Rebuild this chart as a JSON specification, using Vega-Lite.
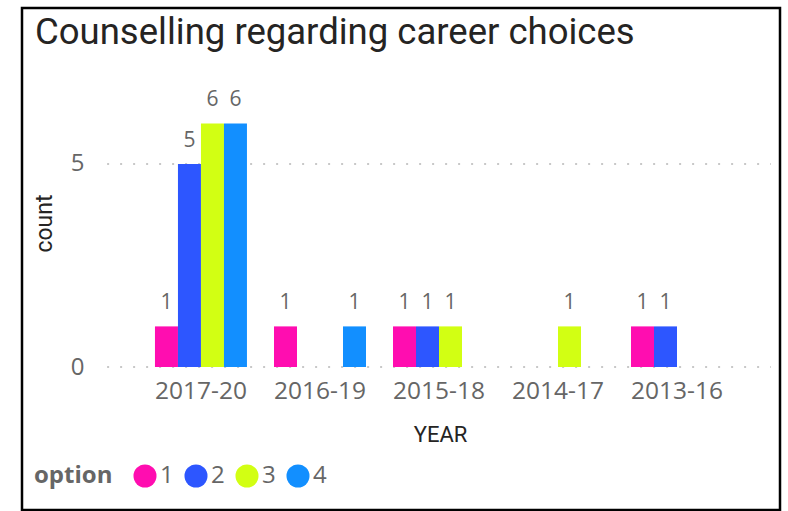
{
  "$schema": "https://vega.github.io/schema/vega-lite/v6.json",
  "width": 758,
  "height": 502,
  "autosize": "none",
  "padding": {"left": 22, "top": 8, "right": 8, "bottom": 1},
  "background": "#ffffff",
  "title": {
    "text": "Counselling regarding career choices",
    "anchor": "start",
    "frame": "group",
    "orient": "top",
    "offset": -37,
    "baseline": "alphabetic",
    "dx": 13,
    "dy": 35,
    "font": "Roboto",
    "fontSize": 36.5,
    "fontWeight": "normal",
    "color": "#252423"
  },
  "config": {
    "view": {"stroke": "#000000", "strokeWidth": 2.5},
    "font": "Open Sans"
  },
  "data": {
    "values": [
      {"YEAR": "2017-20", "option": "1", "count": 1},
      {"YEAR": "2017-20", "option": "2", "count": 5},
      {"YEAR": "2017-20", "option": "3", "count": 6},
      {"YEAR": "2017-20", "option": "4", "count": 6},
      {"YEAR": "2016-19", "option": "1", "count": 1},
      {"YEAR": "2016-19", "option": "4", "count": 1},
      {"YEAR": "2015-18", "option": "1", "count": 1},
      {"YEAR": "2015-18", "option": "2", "count": 1},
      {"YEAR": "2015-18", "option": "3", "count": 1},
      {"YEAR": "2014-17", "option": "3", "count": 1},
      {"YEAR": "2013-16", "option": "1", "count": 1},
      {"YEAR": "2013-16", "option": "2", "count": 1}
    ]
  },
  "layer": [
    {
      "data": {"values": [{"g": 0}, {"g": 5}]},
      "mark": {"type": "rule", "color": "#c8c8c8", "strokeWidth": 2, "strokeDash": [2, 11]},
      "encoding": {
        "y": {"field": "g", "type": "quantitative",
              "scale": {"domain": [-3.522, 8.842], "nice": false, "zero": false},
              "axis": {
                "values": [0, 5], "grid": false, "domain": false, "ticks": false, "tickSize": 0,
                "offset": -66, "labelPadding": 4, "labelFontSize": 24, "labelColor": "#666666", "labelFont": "Open Sans",
                "title": "count", "titleFont": "Roboto", "titleFontSize": 23, "titleFontWeight": "normal", "titleColor": "#252423",
                "titlePadding": 14, "titleY": 215
              }},
        "x": {"datum": "2017-20", "type": "nominal", "bandPosition": -0.52,
              "scale": {"domain": ["2017-20", "2016-19", "2015-18", "2014-17", "2013-16"], "paddingInner": 0.227, "paddingOuter": 0.798, "align": 0.7}},
        "x2": {"datum": "2013-16", "bandPosition": 1.52}
      }
    },
    {
      "mark": {"type": "bar"},
      "encoding": {
        "x": {
          "field": "YEAR", "type": "nominal",
          "scale": {"domain": ["2017-20", "2016-19", "2015-18", "2014-17", "2013-16"], "paddingInner": 0.227, "paddingOuter": 0.798, "align": 0.7},
          "axis": {
            "orient": "bottom", "offset": -143, "domain": false, "ticks": false, "tickSize": 0, "labelAngle": 0, "labelAlign": "center",
            "bandPosition": 0.5,
            "labelPadding": 24, "labelFontSize": 24.5, "labelColor": "#666666", "labelFont": "Open Sans",
            "title": "YEAR", "titleFont": "Roboto", "titleFontSize": 22, "titleFontWeight": "normal", "titleColor": "#252423",
            "titleX": 418, "titleY": 74, "titleBaseline": "alphabetic", "titleAlign": "center"
          }
        },
        "xOffset": {"field": "option", "type": "nominal", "scale": {"domain": ["1", "2", "3", "4"], "paddingInner": 0, "paddingOuter": 0}},
        "y": {
          "field": "count", "type": "quantitative",
          "scale": {"domain": [-3.522, 8.842], "nice": false, "zero": false},
          "axis": {
            "values": [0, 5], "grid": false, "domain": false, "ticks": false, "tickSize": 0,
            "offset": -66, "labelPadding": 4, "labelFontSize": 24, "labelColor": "#666666", "labelFont": "Open Sans",
            "title": "count", "titleFont": "Roboto", "titleFontSize": 23, "titleFontWeight": "normal", "titleColor": "#252423",
            "titlePadding": 14, "titleY": 215
          }
        },
        "y2": {"datum": 0},
        "color": {
          "field": "option", "type": "nominal",
          "scale": {"domain": ["1", "2", "3", "4"], "range": ["#FF0DB0", "#2D56FF", "#D2FF13", "#128FFF"]},
          "legend": {
            "orient": "none", "legendX": 12, "legendY": 456, "direction": "horizontal", "titleOrient": "left",
            "title": "option", "titleFont": "Open Sans", "titleFontSize": 24, "titleFontWeight": "bold", "titleColor": "#666666",
            "labelFont": "Open Sans", "labelFontSize": 24, "labelColor": "#666666",
            "symbolType": "circle", "symbolSize": 530, "symbolStrokeWidth": 0, "symbolOpacity": 1,
            "labelOffset": 3, "columnPadding": 10, "titlePadding": 20
          }
        }
      }
    },
    {
      "mark": {"type": "text", "baseline": "alphabetic", "dy": -17, "fontSize": 21, "color": "#666666", "font": "Open Sans"},
      "encoding": {
        "x": {"field": "YEAR", "type": "nominal"},
        "xOffset": {"field": "option", "type": "nominal"},
        "y": {"field": "count", "type": "quantitative"},
        "text": {"field": "count", "type": "quantitative"}
      }
    }
  ]
}
